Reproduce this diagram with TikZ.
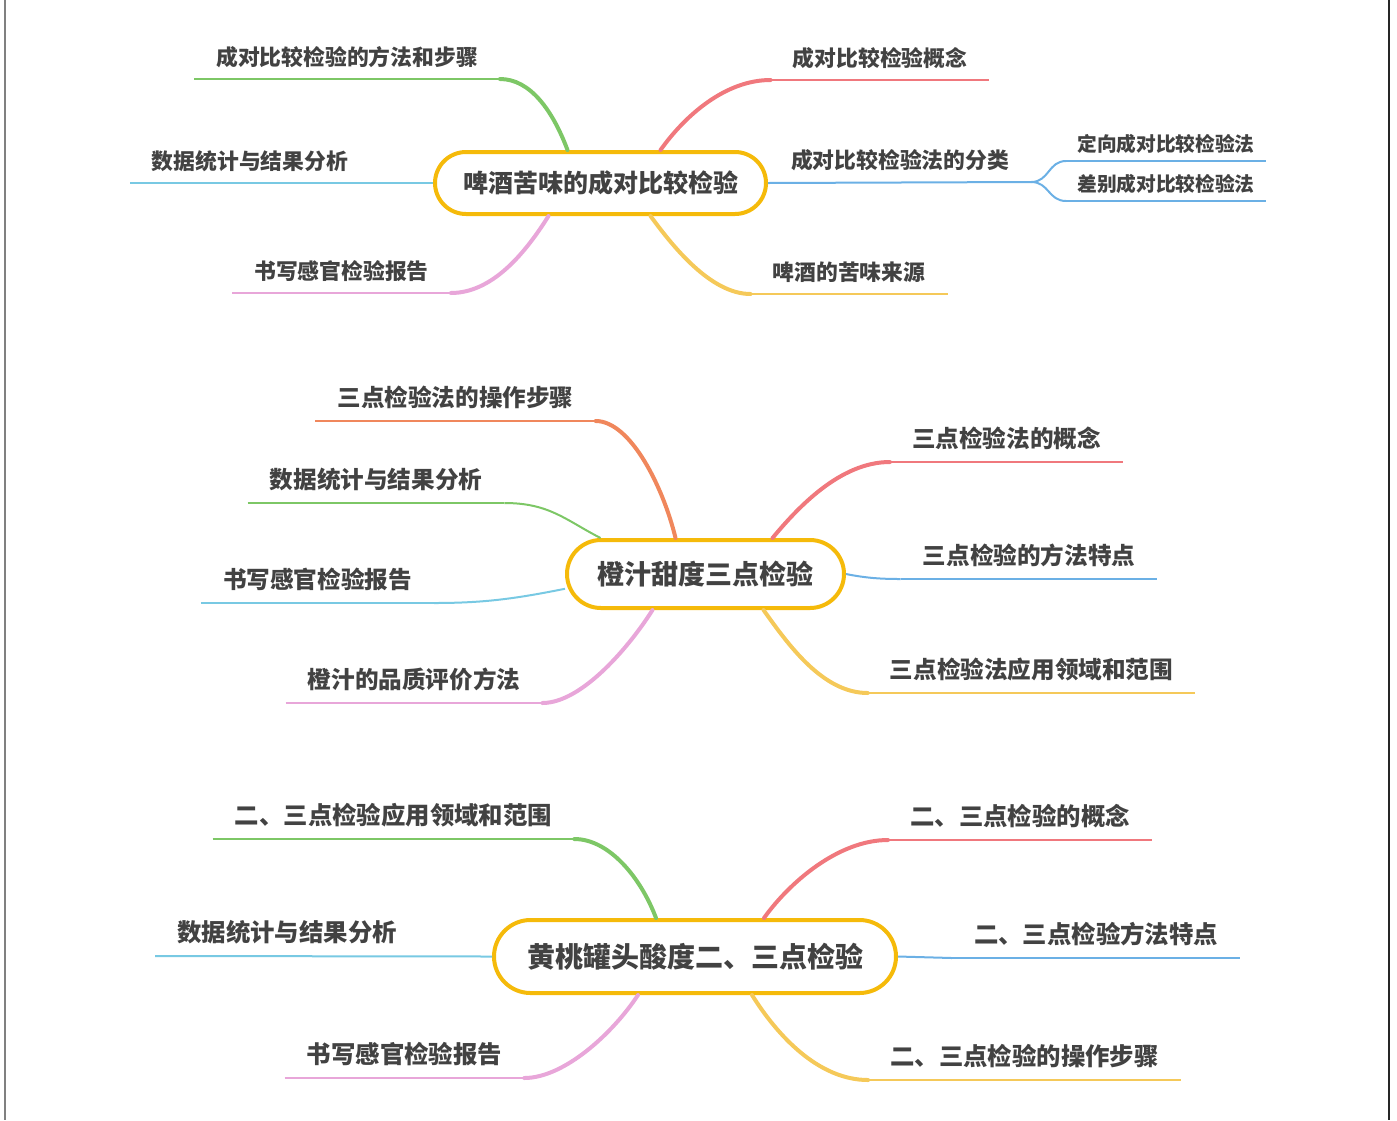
\documentclass[tikz,border=0pt]{standalone}
\usepackage{fontspec}
\usepackage{xcolor}
\newfontfamily\cjk{Noto Sans CJK SC}
\definecolor{rim}{rgb}{0.96, 0.73, 0.04}
\definecolor{ink}{rgb}{0.26, 0.26, 0.26}
\definecolor{grn}{rgb}{0.49, 0.78, 0.40}
\definecolor{rd}{rgb}{0.94, 0.47, 0.49}
\definecolor{sky}{rgb}{0.47, 0.79, 0.89}
\definecolor{blu}{rgb}{0.42, 0.69, 0.90}
\definecolor{pnk}{rgb}{0.91, 0.65, 0.85}
\definecolor{ylw}{rgb}{0.96, 0.79, 0.35}
\definecolor{org}{rgb}{0.94, 0.53, 0.36}

\begin{document}
\begin{tikzpicture}[x=1pt, y=-1pt,
        root/.style={draw=rim, line width=4pt, fill=white, text=ink,
            font=\cjk\bfseries\fontsize{#1}{#1}\selectfont,
            text height=0.88*#1pt, text depth=0.12*#1pt},
        lbl/.style={anchor=south, text=ink, inner xsep=22pt, inner ysep=0.48*#1pt,
            font=\cjk\bfseries\fontsize{#1}{#1}\selectfont,
            text height=0.88*#1pt, text depth=0.12*#1pt},
        stem/.style={draw=#1, line width=4pt, line cap=round},
        rule/.style={draw=#1, line width=2pt}]
    \useasboundingbox (0,0) rectangle (1397,1120);
    \draw[line width=1.5pt, gray] (5,0) -- (5,1120);
    \draw[line width=2pt, black!85] (1389,0) -- (1389,1120);

    % beer
    \node[root=25, inner xsep=28pt, minimum height=62pt, rounded corners=31pt] (r1) at (600.5,183) {啤酒苦味的成对比较检验};
    \node[lbl=21.8] (a1) at (347,79) {成对比较检验的方法和步骤};
    \node[lbl=21.8] (a2) at (250,183) {数据统计与结果分析};
    \node[lbl=21.8] (a3) at (341.5,293) {书写感官检验报告};
    \node[lbl=21.8] (a4) at (880,80) {成对比较检验概念};
    \node[lbl=21.8] (a5) at (900,182) {成对比较检验法的分类};
    \node[lbl=21.8] (a6) at (849,294) {啤酒的苦味来源};
    \node[lbl=19.7, inner xsep=11pt, inner ysep=7pt] (s1) at (1166,161) {定向成对比较检验法};
    \node[lbl=19.7, inner xsep=11pt, inner ysep=7pt] (s2) at (1166,201) {差别成对比较检验法};

    \draw[stem=grn] ([xshift=-33pt]r1.north) .. controls +(-15,-40) and +(30,0) .. (a1.south east);
    \draw[rule=sky] (r1.west) -- (a2.south west);
    \draw[stem=pnk] ([xshift=-52pt]r1.south) .. controls +(-25,40) and +(40,0) .. (a3.south east);
    \draw[stem=rd] ([xshift=60pt]r1.north) .. controls +(25,-35) and +(-45,0) .. (a4.south west);
    \draw[rule=blu] (r1.east) -- (a5.south east);
    \draw[stem=ylw] ([xshift=50pt]r1.south) .. controls +(22,30) and +(-40,0) .. (a6.south west);
    \draw[rule=blu] (a5.south east) .. controls +(18,0) and +(-18,0) .. (s1.south west);
    \draw[rule=blu] (a5.south east) .. controls +(18,0) and +(-18,0) .. (s2.south west);

    % orange juice
    \node[root=27, inner xsep=30.5pt, minimum height=68pt, rounded corners=34pt] (r2) at (705.5,574) {橙汁甜度三点检验};
    \node[lbl=23.6] (m1) at (455.5,421) {三点检验法的操作步骤};
    \node[lbl=23.6] (m2) at (376,503) {数据统计与结果分析};
    \node[lbl=23.6] (m3) at (317.5,603) {书写感官检验报告};
    \node[lbl=23.6] (m4) at (414,703) {橙汁的品质评价方法};
    \node[lbl=23.6] (m5) at (1006.5,462) {三点检验法的概念};
    \node[lbl=23.6] (m6) at (1029,579) {三点检验的方法特点};
    \node[lbl=23.6] (m7) at (1031.5,693) {三点检验法应用领域和范围};

    \draw[stem=org] ([xshift=-30pt]r2.north) .. controls +(-12,-50) and +(35,0) .. (m1.south east);
    \draw[rule=grn] ([xshift=-105pt]r2.north) .. controls +(-35,-18) and +(45,0) .. (m2.south east);
    \draw[rule=sky] (r2.186) .. controls +(-50,10) and +(50,0) .. (m3.south east);
    \draw[stem=pnk] ([xshift=-53pt]r2.south) .. controls +(-22,35) and +(40,0) .. (m4.south east);
    \draw[stem=rd] ([xshift=67pt]r2.north) .. controls +(25,-30) and +(-50,0) .. (m5.south west);
    \draw[rule=blu] (r2.east) .. controls +(20,4) and +(-20,0) .. (m6.south west);
    \draw[stem=ylw] ([xshift=58pt]r2.south) .. controls +(25,35) and +(-45,0) .. (m7.south west);

    % peach
    \node[root=28, inner xsep=33pt, minimum height=73pt, rounded corners=36.5pt] (r3) at (695,956.5) {黄桃罐头酸度二、三点检验};
    \node[lbl=24.4] (h1) at (393.5,839) {二、三点检验应用领域和范围};
    \node[lbl=24.4] (h2) at (287,956) {数据统计与结果分析};
    \node[lbl=24.4] (h3) at (404.5,1078) {书写感官检验报告};
    \node[lbl=24.4] (h4) at (1020,840) {二、三点检验的概念};
    \node[lbl=24.4] (h5) at (1096,958) {二、三点检验方法特点};
    \node[lbl=24.4] (h6) at (1024.5,1080) {二、三点检验的操作步骤};

    \draw[stem=grn] ([xshift=-39pt]r3.north) .. controls +(-15,-40) and +(35,0) .. (h1.south east);
    \draw[rule=sky] (r3.west) -- (h2.south west);
    \draw[stem=pnk] ([xshift=-57pt]r3.south) .. controls +(-25,38) and +(40,0) .. (h3.south east);
    \draw[stem=rd] ([xshift=69pt]r3.north) .. controls +(25,-35) and +(-50,0) .. (h4.south west);
    \draw[rule=blu] (r3.east) -- (h5.south west);
    \draw[stem=ylw] ([xshift=57pt]r3.south) .. controls +(25,40) and +(-50,0) .. (h6.south west);

    % underlines
    \foreach \n/\c in {a1/grn,a3/pnk,a4/rd,a6/ylw,s1/blu,s2/blu,
            m1/org,m2/grn,m3/sky,m4/pnk,m5/rd,m6/blu,m7/ylw,
            h1/grn,h3/pnk,h4/rd,h5/blu,h6/ylw}
        \draw[rule=\c] (\n.south west) -- (\n.south east);
\end{tikzpicture}
\end{document}
